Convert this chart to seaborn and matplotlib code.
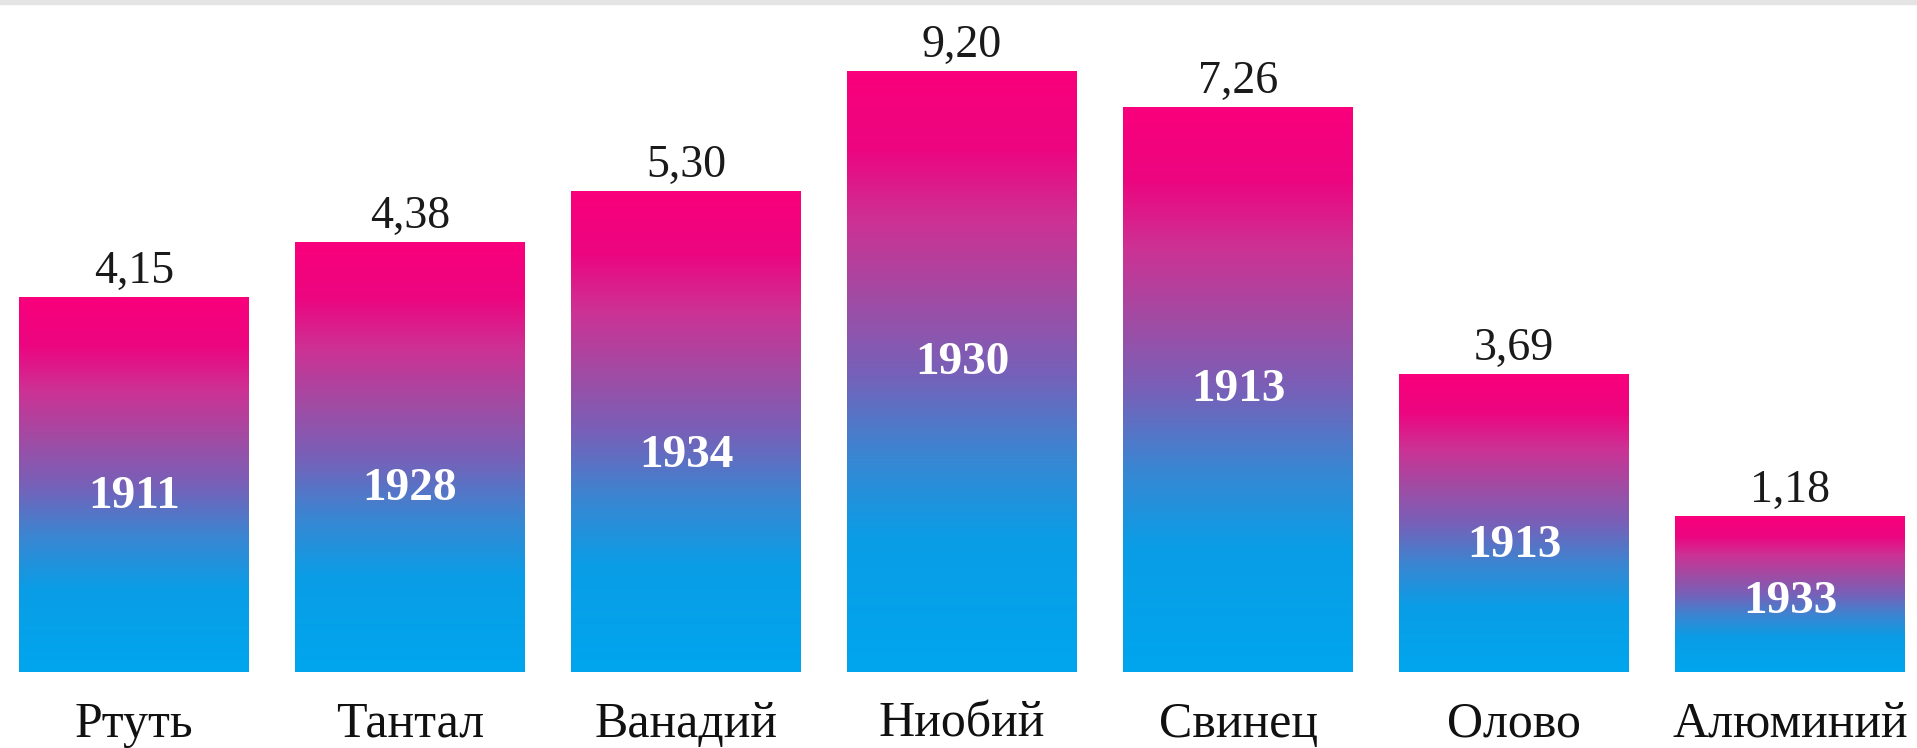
import numpy as np
import pandas as pd
import matplotlib.pyplot as plt
import seaborn as sns
from matplotlib.colors import LinearSegmentedColormap
from matplotlib.patches import Rectangle

# data
metals = ['Ртуть', 'Тантал', 'Ванадий', 'Ниобий', 'Свинец', 'Олово', 'Алюминий']
bar_heights = [3.75, 4.30, 4.81, 6.01, 5.65, 2.98, 1.56]
value_labels = ['4,15', '4,38', '5,30', '9,20', '7,26', '3,69', '1,18']
years = ['1911', '1928', '1934', '1930', '1913', '1913', '1933']

# where the year sits inside each bar (fraction of bar height, baseline)
year_pos = [0.437, 0.40, 0.426, 0.496, 0.48, 0.386, 0.378]

df = pd.DataFrame({'metal': metals, 'height': bar_heights})

sns.set_style('white')
plt.rcParams['font.family'] = ['Liberation Serif', 'DejaVu Serif']

fig = plt.figure(figsize=(19.17, 7.48), dpi=100)
ax = fig.add_axes([0, 76 / 748, 1, 672 / 748])

sns.barplot(data=df, x='metal', y='height', width=0.833, color='#00a3ea', ax=ax)

# vertical pink -> purple -> cyan gradient inside each bar
grad_cmap = LinearSegmentedColormap.from_list('pk', [
    (0.0, '#00a6ee'), (0.22, '#0a9de6'), (0.36, '#3a86d2'), (0.5, '#7860b8'),
    (0.62, '#a04ca4'), (0.75, '#cc3294'), (0.87, '#ec0680'), (1.0, '#fa007c')])
grad = np.linspace(0, 1, 256).reshape(-1, 1)
for p in ax.patches:
    x0, y0 = p.get_x(), p.get_y()
    w, h = p.get_width(), p.get_height()
    im = ax.imshow(grad, cmap=grad_cmap, origin='lower', aspect='auto',
                   extent=[x0, x0 + w, y0, y0 + h], zorder=p.get_zorder() + 0.1)
    im.set_clip_path(p)

for i, (h, lab, yr, fr) in enumerate(zip(bar_heights, value_labels, years, year_pos)):
    ax.annotate(lab, (i, h), xytext=(0, 10), textcoords='offset points',
                ha='center', va='baseline', fontsize=33, color='#1a1a1a')
    ax.text(i, h * fr, yr, ha='center', va='baseline', fontsize=34,
            fontweight='bold', color='white', zorder=5)

ax.set_xlim(-0.4855, 6.46)
ax.set_ylim(0, 6.72)
ax.set_xlabel('')
ax.set_ylabel('')
ax.set_yticks([])
ax.tick_params(axis='x', length=0, pad=21, labelsize=36, labelcolor='#111111')
sns.despine(ax=ax, left=True, bottom=True)

# light grey strip along the top edge
fig.patches.append(Rectangle((0, 1 - 4 / 748), 1, 4 / 748, transform=fig.transFigure,
                             color='#e4e4e4', zorder=0))

fig.savefig('out.png', dpi=100)
